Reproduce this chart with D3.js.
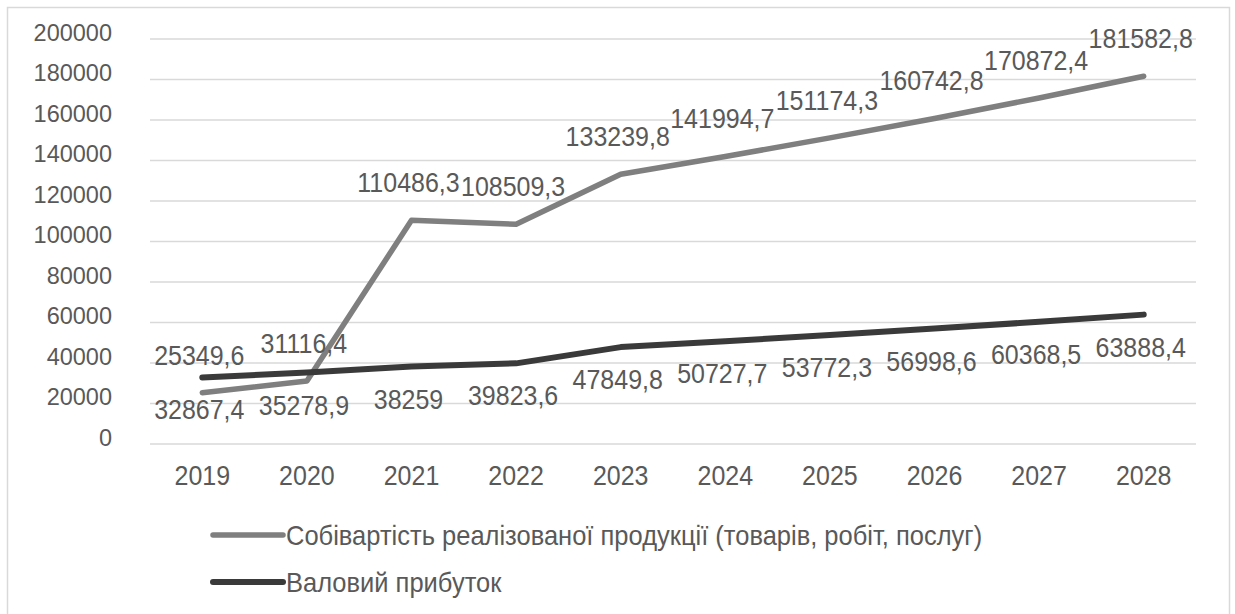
<!DOCTYPE html>
<html>
<head>
<meta charset="utf-8">
<script src="https://cdn.jsdelivr.net/npm/d3@7/dist/d3.min.js"></script>
<style>
  html, body { margin: 0; padding: 0; background: #fff; }
  svg { display: block; }
  text { font-family: "Liberation Sans", Arial, sans-serif; fill: #595959; }
</style>
</head>
<body>
<svg id="chart" width="1235" height="614"></svg>
<script>
// Years on the horizontal axis
const years = ["2019", "2020", "2021", "2022", "2023", "2024", "2025", "2026", "2027", "2028"];

// Cost of goods sold (products, works, services)
const costValues = [25349.6, 31116.4, 110486.3, 108509.3, 133239.8, 141994.7, 151174.3, 160742.8, 170872.4, 181582.8];

// Gross profit
const profitValues = [32867.4, 35278.9, 38259, 39823.6, 47849.8, 50727.7, 53772.3, 56998.6, 60368.5, 63888.4];

// Vertical axis ticks
const yTicks = [0, 20000, 40000, 60000, 80000, 100000, 120000, 140000, 160000, 180000, 200000];

const seriesNames = [
  "Собівартість реалізованої продукції (товарів, робіт, послуг)",
  "Валовий прибуток"
];

const svg = d3.select("#chart");
const TALL = 1.1; // slightly tall lettering

// chart frame
svg.append("rect")
  .attr("x", 7.5).attr("y", 7.5)
  .attr("width", 1222).attr("height", 640)
  .attr("fill", "none").attr("stroke", "#d9d9d9").attr("stroke-width", 1.5);

const plot = { left: 150, right: 1196, top: 39, bottom: 444 };

const x = d3.scaleBand().domain(years).range([plot.left, plot.right]);
const xc = d => x(d) + x.bandwidth() / 2;
const y = d3.scaleLinear().domain([0, 200000]).range([plot.bottom, plot.top]);

// horizontal gridlines
svg.append("g")
  .selectAll("line")
  .data(yTicks)
  .join("line")
  .attr("x1", plot.left).attr("x2", plot.right)
  .attr("y1", d => y(d)).attr("y2", d => y(d))
  .attr("stroke", "#d9d9d9").attr("stroke-width", 1.5);

// y-axis labels
const yAxis = d3.axisLeft(y).tickValues(yTicks).tickSize(0).tickPadding(0).tickFormat(d3.format("d"));
svg.append("g")
  .attr("transform", "translate(112,0)")
  .call(yAxis)
  .call(g => g.select(".domain").remove())
  .selectAll("text")
  .attr("font-size", 23.5)
  .attr("dy", "0.1em")
  .attr("transform", "translate(0,-1) scale(1,1.05)")
  .style("font-family", "'Liberation Sans', Arial, sans-serif")
  .attr("fill", "#595959");

// x-axis labels
const xAxis = d3.axisBottom(x).tickSize(0).tickPadding(0);
svg.append("g")
  .attr("transform", "translate(0,485)")
  .call(xAxis)
  .call(g => g.select(".domain").remove())
  .selectAll("text")
  .attr("font-size", 25)
  .attr("y", 0)
  .attr("dy", 0)
  .attr("transform", `scale(1,${TALL})`)
  .style("font-family", "'Liberation Sans', Arial, sans-serif")
  .attr("fill", "#595959");

const line = d3.line()
  .x((d, i) => xc(years[i]))
  .y(d => y(d));

const fmt = v => String(v).replace(".", ",");

const series = [
  { name: seriesNames[0], values: costValues, color: "#7f7f7f", width: 5.5, labelDy: -28 },
  { name: seriesNames[1], values: profitValues, color: "#3a3a3a", width: 6, labelDy: 42 }
];

series.forEach(s => {
  svg.append("path")
    .datum(s.values)
    .attr("d", line)
    .attr("fill", "none")
    .attr("stroke", s.color)
    .attr("stroke-width", s.width)
    .attr("stroke-linejoin", "round")
    .attr("stroke-linecap", "round");
});

// data labels
series.forEach(s => {
  svg.append("g")
    .selectAll("text")
    .data(s.values)
    .join("text")
    .attr("transform", (d, i) => `translate(${xc(years[i]) - 3},${y(d) + s.labelDy}) scale(1,${TALL})`)
    .attr("text-anchor", "middle")
    .attr("font-size", 25)
    .attr("fill", "#595959")
    .text(fmt);
});

// legend
const legend = svg.append("g");
series.forEach((s, i) => {
  const ly = 535 + i * 47;
  legend.append("line")
    .attr("x1", 213).attr("x2", 283)
    .attr("y1", ly).attr("y2", ly)
    .attr("stroke", s.color).attr("stroke-width", s.width)
    .attr("stroke-linecap", "round");
  legend.append("text")
    .attr("transform", `translate(286,${ly + 10}) scale(1,${TALL})`)
    .attr("font-size", 25.5)
    .attr("fill", "#595959")
    .text(s.name);
});
</script>
</body>
</html>
